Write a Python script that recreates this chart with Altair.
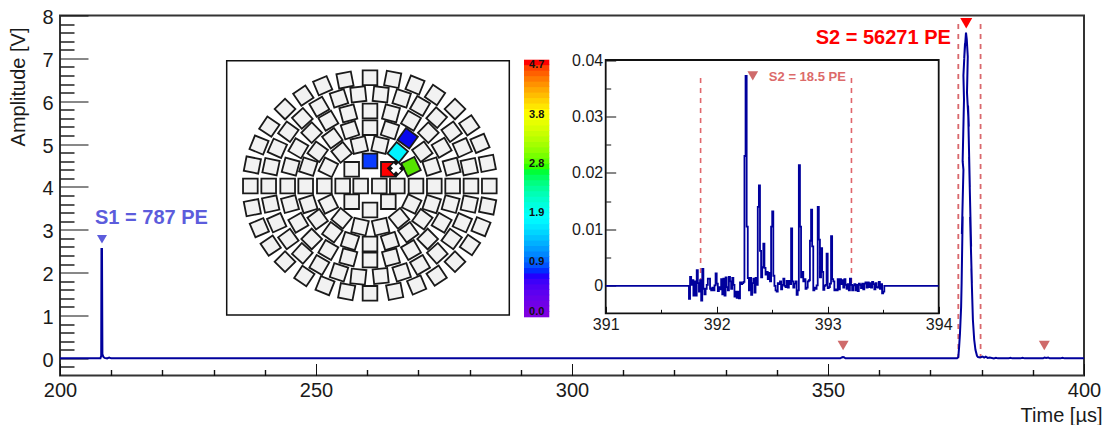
import altair as alt
import pandas as pd

FONT = "Liberation Sans"
NAVY = "#00009c"
PINK = "#d9686c"

# ---------- main waveform ----------
wave_t = [200, 207.9, 208.05, 208.1, 208.2, 208.28, 208.45, 208.7, 209.2, 209.6, 210,
          352.4, 352.7, 352.9, 353.1, 353.4,
          375.2, 375.45, 375.6, 375.78, 376.0, 376.1, 376.3, 376.15, 376.45, 376.3, 376.56, 376.45, 376.76, 376.6, 376.95, 377.1,
          377.3, 377.15, 377.5, 377.35, 377.7, 377.55, 377.95, 377.75, 378.1, 378.0, 378.3, 378.55, 378.8, 379.1, 379.3, 379.7,
          380.2, 380.5, 380.8, 381.2, 381.6, 382.4, 382.8, 383.2,
          385.3, 385.6, 386, 387.6, 388, 388.4, 392, 392.3, 392.6, 393, 393.3, 395.4, 395.8, 396.2, 400]
wave_v = [0, 0, 0.06, 2.55, 2.55, 0.1, 0.04, 0.01, 0.0, 0.02, 0,
          0, 0.02, 0.03, 0.025, 0,
          0, 0.03, 0.25, 0.59, 1.2, 1.76, 3.31, 2.9, 4.4, 4.6, 6.03, 6.6, 7.35, 7.0, 7.6, 7.45,
          7.04, 6.2, 5.41, 5.9, 4.0, 4.7, 2.61, 3.3, 1.76, 2.1, 0.9, 0.44, 0.2, 0.06, 0.03, 0.02,
          0.04, 0.02, 0.04, 0.01, 0.02, 0, 0.015, 0,
          0, 0.015, 0, 0, 0.015, 0, 0, 0.02, 0.01, 0.02, 0, 0, 0.015, 0, 0]

# ---------- inset waveform (millivolts, one sample per 10 ns) ----------
inset_mv = [
    -2.3, 1.6, 0.2, 1.0, -1.7, 0.8, -1.7, 2.8, 0.5, -1.0,
    1.0, -2.6, 3.0, -0.5, -1.5, -0.5, 0.2, 1.3, 1.3, -0.5,
    -0.8, -0.3, -0.8, 0.1, 2.2, 0.4, -0.9, -0.2, -0.6, 1.2,
    -1.5, 1.3, -1.7, 1.5, -0.2, -0.8, 1.6, 0.8, -0.5, 1.4,
    0.2, -1.9, -1.0, -2.1, -1.0, -2.2, 0.6, 0.3, 0.5, 0.7,
    23.0, 37.2, 10.5, 1.4, -0.8, 1.4, -1.6, 0.5, 1.3, -1.2,
    1.4, 0.2, 14.0, 17.8, 6.2, 1.5, 3.3, 7.5, 3.2, 2.0,
    2.5, 1.2, 2.3, 0.8, 10.5, 13.2, 1.8, 0.0, -0.8, -1.0,
    0.5, 0.3, 0.8, -0.6, 0.2, 1.3, 0.0, -0.2, 0.9, -0.3,
    0.9, 0.3, 10.2, 0.8, -0.3, 0.4, 0.8, -1.6, -0.8, 21.4,
    10.5, 1.5, 2.5, 0.8, 1.2, -0.5, -0.3, 0.8, 1.0, 8.0,
    13.5, 7.0, -0.8, -0.3, -0.5, 0.1, 14.0, 8.2, 1.5, 6.7,
    2.5, -0.7, 0.0, 0.2, 5.7, -0.4, -0.2, 0.4, 8.8, 1.2,
    0.8, -0.8, -0.6, -0.8, 1.2, -0.6, 1.2, 0.3, 1.0, -0.3,
    1.2, 0.2, -0.5, 0.3, -0.8, 1.3, 0.2, -0.8, 0.1, 0.3,
    -0.8, 0.2, -0.9, 0.4, 0.2, -0.4, 0.4, -0.6, 0.4, 0.6,
    -0.3, 0.6, -0.2, 0.5, -0.3, 0.7, 0.3, -0.6, 0.5, -0.2,
    -0.3, 0.7, -0.5, 0.3, -1.3, -1.0, 0.0,
]
INSET_START = 391.75
INSET_STEP = 0.01

# ---------- sensors: positions, tilt in degrees ----------
gray_x = [450,518,585,645,705,748,780,802,808,803,783,750,705,650,590,524,450,380,315,253,195,152,118,97,91,97,117,148,195,250,308,375,
          415,482,545,600,650,695,727,748,753,748,727,695,652,600,545,482,415,357,298,247,205,170,152,146,153,172,205,247,298,357,
          450,513,573,625,665,695,698,692,665,623,573,513,450,385,325,275,235,210,203,212,235,275,325,385,
          450,510,607,635,643,635,607,565,510,450,390,337,293,265,257,265,293,337,390,
          418,480,588,575,537,482,420,365,325,313,325,365,
          395,368,422,478,532,395,450,505]
gray_y = [83,88,105,135,177,226,280,340,408,468,530,585,635,677,705,724,730,725,707,678,635,587,533,473,408,345,285,230,177,137,107,90,
          133,133,145,168,203,245,293,350,408,462,518,567,610,645,667,678,680,667,645,610,567,518,462,408,350,295,245,205,170,145,
          183,190,212,248,293,350,408,462,518,567,600,622,630,622,600,567,518,462,408,350,295,248,212,190,
          233,240,305,350,408,462,508,547,573,582,573,547,508,462,408,350,305,265,240,
          285,285,408,462,505,530,530,505,462,408,352,307,
          358,408,408,408,408,455,480,455]
gray_a = [0,11,22,34,45,56,67,79,0,11,22,34,45,56,67,79,0,11,22,34,45,56,67,79,0,11,22,34,45,56,67,79,
          84,6,18,30,42,54,66,78,0,12,24,36,48,60,72,84,6,18,30,42,54,66,78,0,12,24,36,48,60,72,
          0,15,30,45,60,75,0,15,30,45,60,75,0,15,30,45,60,75,0,15,30,45,60,75,
          0,18,54,72,0,18,36,54,72,0,18,36,54,72,0,18,36,54,72,
          77,13,0,26,51,77,13,39,64,0,26,51,
          0,0,0,0,0,0,0,0]
hit_x = [450, 505, 533, 573, 563]
hit_y = [333, 358, 307, 350, 265]
hit_a = [0, 0, 39, 64, 36]
hit_c = ["#0a3cff", "#ff0000", "#00f4ff", "#55e400", "#0808ee"]
dead_x = [528]
dead_y = [355]

# ---------- colour bar ----------
cell_low = [0.0,0.1,0.2,0.3,0.4,0.5,0.6,0.7,0.8,0.9,1.0,1.1,1.2,1.3,1.4,1.5,1.6,1.7,1.8,1.9,2.0,2.1,2.2,2.3,
            2.4,2.5,2.6,2.7,2.8,2.9,3.0,3.1,3.2,3.3,3.4,3.5,3.6,3.7,3.8,3.9,4.0,4.1,4.2,4.3,4.4,4.5,4.6]
bar_stops = [0, 0.75, 1.75, 2.66, 3.67, 4.6]
bar_colors = ["#8000e0", "#0000ff", "#00ffff", "#00ff00", "#ffff00", "#ff0000"]
bar_label_pos = [0.1, 1.0, 1.9, 2.8, 3.7, 4.6]
bar_labels = ["0.0", "0.9", "1.9", "2.8", "3.8", "4.7"]

# ---------- ticks ----------
x_major = [200, 250, 300, 350, 400]
x_minor = [210,220,230,240,260,270,280,290,310,320,330,340,360,370,380,390]
y_major = [0, 1, 2, 3, 4, 5, 6, 7, 8]
y_minor = [-0.2,0.2,0.4,0.6,0.8,1.2,1.4,1.6,1.8,2.2,2.4,2.6,2.8,3.2,3.4,3.6,3.8,4.2,4.4,4.6,4.8,
           5.2,5.4,5.6,5.8,6.2,6.4,6.6,6.8,7.2,7.4,7.6,7.8]
ix_major = [391, 392, 393, 394]
ix_minor = [391.5, 392.5, 393.5]
iy_major = [0, 0.01, 0.02, 0.03, 0.04]
iy_minor = [0.005, 0.015, 0.025, 0.035]

# ---------- plot geometry ----------
W, H = 1024, 360
X_MAIN = alt.Scale(domain=[200, 400], range=[0, W])
Y_MAIN = alt.Scale(domain=[-0.4, 8], range=[H, 0])
# inset frame, in plot pixels
IL, IR, IT, IB = 545.7, 878.7, 44.5, 297.8
X_IN = alt.Scale(domain=[391, 394], range=[IL, IR])
Y_IN = alt.Scale(domain=[-0.00485, 0.04], range=[IB, IT])
# PMT map frame coordinates
X_PMT = alt.Scale(domain=[20, 868], range=[166.7, 449.3])
Y_PMT = alt.Scale(domain=[32, 795], range=[45.2, 299.5])
X_BAR = alt.Scale(domain=[0, 1], range=[464, 489.3])
Y_BAR = alt.Scale(domain=[0, 4.7], range=[301.8, 44.2])


def ticks(chan, values, scale, **kw):
    base = dict(values=values, domain=False, grid=False, labels=False, title=None,
                tickColor="#111111", labelFont=FONT)
    base.update(kw)
    df = pd.DataFrame({"v": values})
    enc = {chan: alt.X("v:Q", scale=scale, axis=alt.Axis(**base)) if chan == "x"
           else alt.Y("v:Q", scale=scale, axis=alt.Axis(**base))}
    return alt.Chart(df).mark_rule(opacity=0).encode(**enc)


layers = []

# main axes: labels live on the outer side, ticks point inward
layers.append(ticks("x", x_major, X_MAIN, orient="top", offset=-H, tickSize=12, tickWidth=1))
layers.append(ticks("x", x_minor, X_MAIN, orient="top", offset=-H, tickSize=6, tickWidth=1.4))
layers.append(ticks("y", y_major, Y_MAIN, orient="right", offset=-W, tickSize=28, tickWidth=1))
layers.append(ticks("y", y_minor, Y_MAIN, orient="right", offset=-W, tickSize=14, tickWidth=1.4))
layers.append(ticks("x", x_major, X_MAIN, orient="bottom", ticks=False, labels=True, labelFontSize=20,
                    labelColor="#1a1a1a", labelPadding=5, format="d", labelFlush=False, labelOverlap=False,
                    title="Time [µs]", titleFont=FONT, titleFontSize=20, titleFontWeight="normal",
                    titleColor="#1a1a1a", titleAlign="right", titleAnchor="start", titleBaseline="alphabetic",
                    titleX=1042, titleY=45.5))
layers.append(ticks("y", y_major, Y_MAIN, orient="left", ticks=False, labels=True, labelFontSize=20,
                    labelColor="#1a1a1a", labelPadding=7, format="d", labelFlush=False, labelOverlap=False,
                    labelOffset=2, labelBound=False,
                    title="Amplitude [V]", titleFont=FONT, titleFontSize=20, titleFontWeight="normal",
                    titleColor="#1a1a1a", titleAngle=270, titleAlign="right", titleAnchor="start",
                    titleBaseline="alphabetic", titleX=-36, titleY=11.5))

# S2 window lines in main plot
m_dash = pd.DataFrame({"t": [375.45, 379.8], "top": [7.8, 7.8], "bot": [0, 0]})
layers.append(alt.Chart(m_dash).mark_rule(color=PINK, strokeWidth=1.8, strokeDash=[5, 5]).encode(
    x=alt.X("t:Q", scale=X_MAIN, axis=None), y=alt.Y("top:Q", scale=Y_MAIN, axis=None), y2="bot:Q"))

# main trace
main_df = pd.DataFrame({"t": wave_t, "v": wave_v, "o": list(range(len(wave_t)))})
layers.append(alt.Chart(main_df).mark_line(color=NAVY, strokeWidth=2, interpolate="linear").encode(
    x=alt.X("t:Q", scale=X_MAIN, axis=None), y=alt.Y("v:Q", scale=Y_MAIN, axis=None), order="o:Q"))

# triangles on main plot
tri = pd.DataFrame({"t": [208.2, 377.0, 352.95, 392.25], "v": [2.78, 7.82, 0.3, 0.3],
                    "c": ["#5c5cdc", "#ff0000", "#cf6a6a", "#cf6a6a"], "s": [100, 144, 121, 121]})
layers.append(alt.Chart(tri).mark_point(shape="triangle-down", filled=True, opacity=1).encode(
    x=alt.X("t:Q", scale=X_MAIN, axis=None), y=alt.Y("v:Q", scale=Y_MAIN, axis=None),
    fill=alt.Fill("c:N", scale=None), size=alt.Size("s:Q", scale=None)))

# labels on main plot
lab = pd.DataFrame({"t": [206.84, 347.6], "v": [3.14, 7.34], "s": ["S1 = 787 PE", "S2 = 56271 PE"],
                    "c": ["#5c5cdc", "#ff0000"]})
layers.append(alt.Chart(lab).mark_text(font=FONT, fontSize=20, fontWeight="bold", align="left",
                                       baseline="alphabetic").encode(
    x=alt.X("t:Q", scale=X_MAIN, axis=None), y=alt.Y("v:Q", scale=Y_MAIN, axis=None),
    text="s:N", color=alt.Color("c:N", scale=None)))

# ---- PMT map ----
frame_pmt = pd.DataFrame({"x": [20], "x2": [868], "y": [32], "y2": [795]})
layers.append(alt.Chart(frame_pmt).mark_rect(filled=False, stroke="#111111", strokeWidth=1.5).encode(
    x=alt.X("x:Q", scale=X_PMT, axis=None), x2="x2:Q", y=alt.Y("y:Q", scale=Y_PMT, axis=None), y2="y2:Q"))
gray_df = pd.DataFrame({"x": gray_x, "y": gray_y, "a": gray_a})
layers.append(alt.Chart(gray_df).mark_point(shape="square", filled=True, fill="#f2f2f2", stroke="#1a1a1a",
                                            strokeWidth=1.8, size=215, opacity=1).encode(
    x=alt.X("x:Q", scale=X_PMT, axis=None), y=alt.Y("y:Q", scale=Y_PMT, axis=None),
    angle=alt.Angle("a:Q", scale=None)))
hit_df = pd.DataFrame({"x": hit_x, "y": hit_y, "a": hit_a, "c": hit_c})
layers.append(alt.Chart(hit_df).mark_point(shape="square", filled=True, stroke="#1a1a1a",
                                           strokeWidth=1.8, size=215, opacity=1).encode(
    x=alt.X("x:Q", scale=X_PMT, axis=None), y=alt.Y("y:Q", scale=Y_PMT, axis=None),
    angle=alt.Angle("a:Q", scale=None), fill=alt.Fill("c:N", scale=None)))
dead_df = pd.DataFrame({"x": dead_x, "y": dead_y})
layers.append(alt.Chart(dead_df).mark_point(shape="square", filled=True, fill="#111111", size=170, angle=45, opacity=1).encode(
    x=alt.X("x:Q", scale=X_PMT, axis=None), y=alt.Y("y:Q", scale=Y_PMT, axis=None)))
layers.append(alt.Chart(dead_df).mark_point(shape="cross", filled=True, fill="#ffffff", size=110, angle=45, opacity=1).encode(
    x=alt.X("x:Q", scale=X_PMT, axis=None), y=alt.Y("y:Q", scale=Y_PMT, axis=None)))

# ---- colour bar ----
bar_df = pd.DataFrame({"low": cell_low, "a": [0] * len(cell_low), "b": [1] * len(cell_low)})
bar_df["high"] = (bar_df["low"] + 0.115).clip(upper=4.7)
layers.append(alt.Chart(bar_df).mark_rect(opacity=1).encode(
    x=alt.X("a:Q", scale=X_BAR, axis=None), x2="b:Q",
    y=alt.Y("low:Q", scale=Y_BAR, axis=None), y2="high:Q",
    color=alt.Color("low:Q", scale=alt.Scale(domain=bar_stops, range=bar_colors), legend=None)))
bar_txt = pd.DataFrame({"p": bar_label_pos, "s": bar_labels, "a": [0.5] * len(bar_labels)})
layers.append(alt.Chart(bar_txt).mark_text(font=FONT, fontSize=11, fontWeight="bold", color="#111111").encode(
    x=alt.X("a:Q", scale=X_BAR, axis=None), y=alt.Y("p:Q", scale=Y_BAR, axis=None), text="s:N"))

# ---- inset waveform ----
in_t = [391.0]
in_v = [0.0]
for i, mv in enumerate(inset_mv):
    in_t.append(INSET_START + i * INSET_STEP)
    in_v.append(mv / 1000.0)
in_t.append(394.0)
in_v.append(0.0)
in_df = pd.DataFrame({"t": in_t, "v": in_v})
layers.append(alt.Chart(pd.DataFrame({"x": [391], "x2": [394], "y": [-0.00485], "y2": [0.04]})).mark_rect(
    filled=False, stroke="#111111", strokeWidth=1.8).encode(
    x=alt.X("x:Q", scale=X_IN, axis=None), x2="x2:Q", y=alt.Y("y:Q", scale=Y_IN, axis=None), y2="y2:Q"))
layers.append(ticks("x", ix_major, X_IN, orient="top", offset=-IB, tickSize=7, tickWidth=1))
layers.append(ticks("x", ix_minor, X_IN, orient="top", offset=-IB, tickSize=4, tickWidth=1))
layers.append(ticks("y", iy_major, Y_IN, orient="right", offset=IL - W, tickSize=10, tickWidth=1))
layers.append(ticks("y", iy_minor, Y_IN, orient="right", offset=IL - W, tickSize=5, tickWidth=1))
layers.append(ticks("x", ix_major, X_IN, orient="bottom", offset=IB - H, ticks=False, labels=True, labelFontSize=16,
                    labelColor="#1a1a1a", labelPadding=3, format="d", labelFlush=False, labelOverlap=False))
layers.append(ticks("y", iy_major, Y_IN, orient="left", offset=-IL, ticks=False, labels=True, labelFontSize=16,
                    labelColor="#1a1a1a", labelPadding=3, labelFlush=False, labelOverlap=False,
                    labelExpr="datum.value == 0 ? '0' : format(datum.value, '.2f')"))
i_dash = pd.DataFrame({"t": [391.855, 393.214], "top": [0.0368, 0.0368], "bot": [0, 0]})
layers.append(alt.Chart(i_dash).mark_rule(color="#e0666c", strokeWidth=1.6, strokeDash=[5, 5]).encode(
    x=alt.X("t:Q", scale=X_IN, axis=None), y=alt.Y("top:Q", scale=Y_IN, axis=None), y2="bot:Q"))
layers.append(alt.Chart(in_df).mark_line(color=NAVY, strokeWidth=1.8, interpolate="step-after").encode(
    x=alt.X("t:Q", scale=X_IN, axis=None, sort=None), y=alt.Y("v:Q", scale=Y_IN, axis=None)))
layers.append(alt.Chart(pd.DataFrame({"t": [392.325], "v": [0.0372]})).mark_point(
    shape="triangle-down", filled=True, fill="#cf6a6a", size=115, opacity=1).encode(
    x=alt.X("t:Q", scale=X_IN, axis=None), y=alt.Y("v:Q", scale=Y_IN, axis=None)))
layers.append(alt.Chart(pd.DataFrame({"t": [392.47], "v": [0.0363], "s": ["S2 = 18.5 PE"]})).mark_text(
    font=FONT, fontSize=13, fontWeight="bold", align="left", baseline="alphabetic", color="#dc6a6a").encode(
    x=alt.X("t:Q", scale=X_IN, axis=None), y=alt.Y("v:Q", scale=Y_IN, axis=None), text="s:N"))

chart = (
    alt.layer(*layers)
    .resolve_scale(x="independent", y="independent", color="independent", fill="independent", size="independent")
    .resolve_axis(x="independent", y="independent")
    .properties(width=W, height=H, autosize=alt.AutoSizeParams(type="none"),
                padding={"left": 52, "top": 7.5, "right": 19, "bottom": 49.5}, background="white")
    .configure_view(stroke="#333333", strokeWidth=2)
)

chart.save("out.html", embed_options={"renderer": "svg", "actions": False})
